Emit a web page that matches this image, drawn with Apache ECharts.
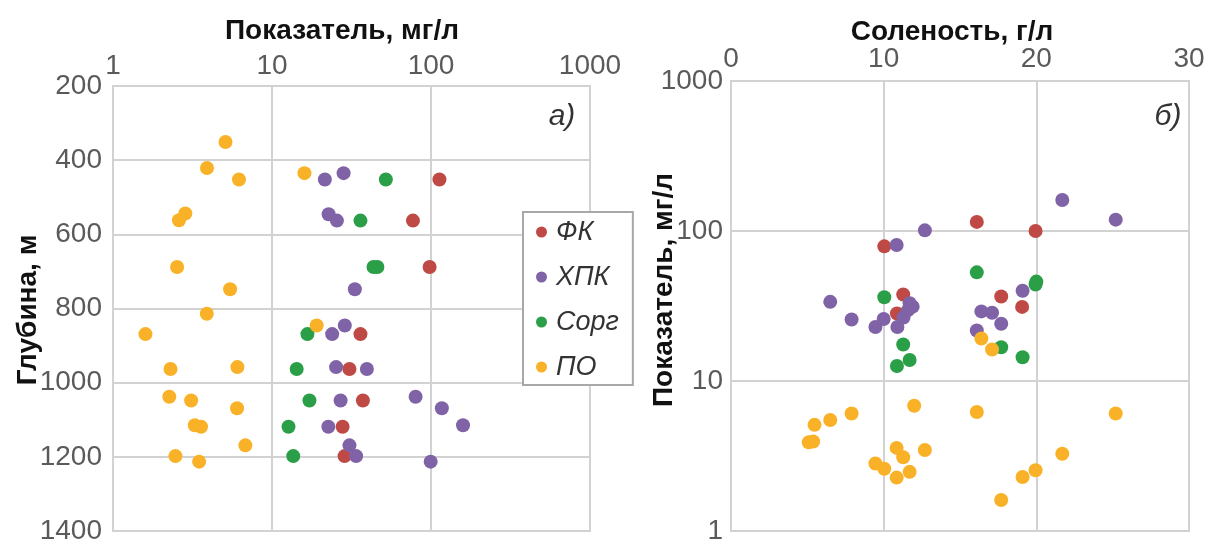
<!DOCTYPE html>
<html>
<head>
<meta charset="utf-8">
<script src="https://cdn.jsdelivr.net/npm/echarts@6/dist/echarts.min.js"></script>
<style>
  html, body { margin: 0; padding: 0; background: #ffffff; }
  #chart { width: 1209px; height: 545px; }
</style>
</head>
<body>
<div id="chart"></div>
<script>
// ---------- data ----------
const seriesNames = ['ФК', 'ХПК', 'Сорг', 'ПО'];
const colors = ['#bf4a45', '#8062a6', '#2b9f48', '#f9b227'];

// Panel a): value (mg/l) vs depth (m)
const fkValueA   = [113, 77, 98, 36, 30.7, 37.3, 27.8, 28.6];
const fkDepthA   = [452, 563, 688, 869, 963, 1048, 1119, 1198];
const hpkValueA  = [21.5, 28.2, 22.7, 25.6, 33.2, 28.7, 23.9, 25.3, 39.5, 80, 27, 117, 159, 22.6, 30.7, 33.8, 99.5];
const hpkDepthA  = [452, 435, 546, 563, 748, 846, 869, 958, 963, 1038, 1048, 1069, 1115, 1119, 1169, 1198, 1213];
const corgValueA = [52, 36, 43.5, 46, 16.7, 14.3, 17.2, 12.7, 13.6];
const corgDepthA = [452, 563, 688, 688, 869, 963, 1048, 1119, 1198];
const poValueA   = [5.1, 3.9, 6.2, 16, 2.85, 2.6, 2.53, 5.45, 3.89, 1.6, 19.1, 2.3, 6.06, 2.26, 3.1, 6.03, 3.27, 3.58, 6.8, 2.47, 3.48];
const poDepthA   = [351, 421, 452, 435, 544, 562, 688, 748, 814, 869, 846, 963, 958, 1038, 1048, 1069, 1115, 1119, 1169, 1198, 1213];

// Panel б): salinity (g/l) vs value (mg/l)
const fkSalB    = [16.1, 19.95, 10.04, 11.28, 17.7, 19.07, 10.87];
const fkValueB  = [115, 100, 79, 37.7, 36.6, 31.2, 28.2];
const hpkSalB   = [21.7, 25.2, 12.7, 10.85, 6.5, 7.9, 9.46, 10.0, 10.9, 11.3, 11.7, 11.9, 11.6, 19.1, 16.4, 17.1, 17.7, 16.1];
const hpkValueB = [161, 119, 101, 80.7, 33.7, 25.7, 22.9, 25.9, 22.9, 26.5, 33, 31.3, 29.7, 40, 29.1, 28.5, 24.1, 21.7];
const corgSalB  = [16.1, 19.95, 20.0, 10.04, 11.28, 11.7, 10.87, 17.7, 19.1];
const corgValueB= [53, 44, 46, 36.2, 17.5, 13.8, 12.6, 16.8, 14.4];
const poSalB    = [16.4, 17.1, 12.0, 16.1, 25.2, 7.9, 6.5, 5.47, 5.09, 5.38, 10.85, 12.7, 11.28, 21.7, 9.46, 10.04, 11.7, 10.85, 19.95, 19.1, 17.7];
const poValueB  = [19.2, 16.2, 6.84, 6.22, 6.07, 6.07, 5.5, 5.1, 3.9, 3.95, 3.58, 3.47, 3.1, 3.27, 2.82, 2.6, 2.48, 2.27, 2.54, 2.29, 1.61];

// tick settings
const depthTicks = { min: 200, max: 1400, interval: 200 };
const salTicks = { min: 0, max: 30, interval: 10 };
const logRange = { min: 1, max: 1000 };

// ---------- build ----------
function zip(a, b) { return a.map((v, i) => [v, b[i]]); }
const panelA = [zip(fkValueA, fkDepthA), zip(hpkValueA, hpkDepthA), zip(corgValueA, corgDepthA), zip(poValueA, poDepthA)];
const panelB = [zip(fkSalB, fkValueB), zip(hpkSalB, hpkValueB), zip(corgSalB, corgValueB), zip(poSalB, poValueB)];

const FONT = '"Liberation Sans", Arial, sans-serif';
const plainFmt = v => String(Math.round(v));
function lbl(margin) {
  return { margin: margin, color: '#5a5a5a', fontSize: 28, fontFamily: FONT, formatter: plainFmt };
}
const gridLine = { show: true, lineStyle: { color: '#d2d2d2', width: 2 } };

const series = [];
seriesNames.forEach((name, i) => {
  series.push({
    name: name, type: 'scatter', xAxisIndex: 0, yAxisIndex: 0,
    data: panelA[i], symbolSize: 14, itemStyle: { color: colors[i], opacity: 1 }, z: 2 + i
  });
});
seriesNames.forEach((name, i) => {
  series.push({
    name: name, type: 'scatter', xAxisIndex: 1, yAxisIndex: 1,
    data: panelB[i], symbolSize: 14, itemStyle: { color: colors[i], opacity: 1 }, z: 2 + i
  });
});

const chart = echarts.init(document.getElementById('chart'), null, { renderer: 'canvas' });
chart.setOption({
  animation: false,
  backgroundColor: '#ffffff',
  grid: [
    { left: 113, top: 86, width: 477, height: 447, show: true, borderColor: '#cfcfcf', borderWidth: 2, backgroundColor: 'transparent' },
    { left: 731, top: 81, width: 458, height: 460, show: true, borderColor: '#cfcfcf', borderWidth: 2, backgroundColor: 'transparent' }
  ],
  xAxis: [
    { gridIndex: 0, type: 'log', logBase: 10, min: logRange.min, max: logRange.max, position: 'top',
      axisLine: { show: false }, axisTick: { show: false },
      axisLabel: lbl(6), splitLine: gridLine },
    { gridIndex: 1, type: 'value', min: salTicks.min, max: salTicks.max, interval: salTicks.interval, position: 'top',
      axisLine: { show: false }, axisTick: { show: false },
      axisLabel: lbl(8), splitLine: gridLine }
  ],
  yAxis: [
    { gridIndex: 0, type: 'value', inverse: true, min: depthTicks.min, max: depthTicks.max, interval: depthTicks.interval,
      axisLine: { show: false }, axisTick: { show: false },
      axisLabel: lbl(11), splitLine: gridLine },
    { gridIndex: 1, type: 'log', logBase: 10, min: logRange.min, max: logRange.max,
      axisLine: { show: false }, axisTick: { show: false },
      axisLabel: lbl(8), splitLine: gridLine }
  ],
  legend: {
    data: seriesNames,
    orient: 'vertical',
    left: 523, top: 212,
    icon: 'circle', itemWidth: 11, itemHeight: 11, itemGap: 17,
    padding: [6, 14, 4, 13],
    borderColor: '#a8a8a8', borderWidth: 2, backgroundColor: '#ffffff',
    textStyle: { fontSize: 27, fontStyle: 'italic', color: '#333333', fontFamily: FONT, lineHeight: 28, padding: [0, 0, 0, 4] }
  },
  graphic: [
    { type: 'text', style: { text: 'Показатель, мг/л', x: 342, y: 31, align: 'center', verticalAlign: 'middle', font: 'bold 28px ' + FONT, fill: '#111' } },
    { type: 'text', style: { text: 'Соленость, г/л', x: 952, y: 32, align: 'center', verticalAlign: 'middle', font: 'bold 28px ' + FONT, fill: '#111' } },
    { type: 'text', x: 28, y: 310, rotation: Math.PI / 2, style: { text: 'Глубина, м', x: 0, y: 0, align: 'center', verticalAlign: 'middle', font: 'bold 28px ' + FONT, fill: '#111' } },
    { type: 'text', x: 664, y: 290, rotation: Math.PI / 2, style: { text: 'Показатель, мг/л', x: 0, y: 0, align: 'center', verticalAlign: 'middle', font: 'bold 28px ' + FONT, fill: '#111' } },
    { type: 'text', style: { text: 'а)', x: 562, y: 117, align: 'center', verticalAlign: 'middle', font: 'italic 30px ' + FONT, fill: '#333' } },
    { type: 'text', style: { text: 'б)', x: 1168, y: 117, align: 'center', verticalAlign: 'middle', font: 'italic 30px ' + FONT, fill: '#333' } }
  ],
  series: series
});
</script>
</body>
</html>
